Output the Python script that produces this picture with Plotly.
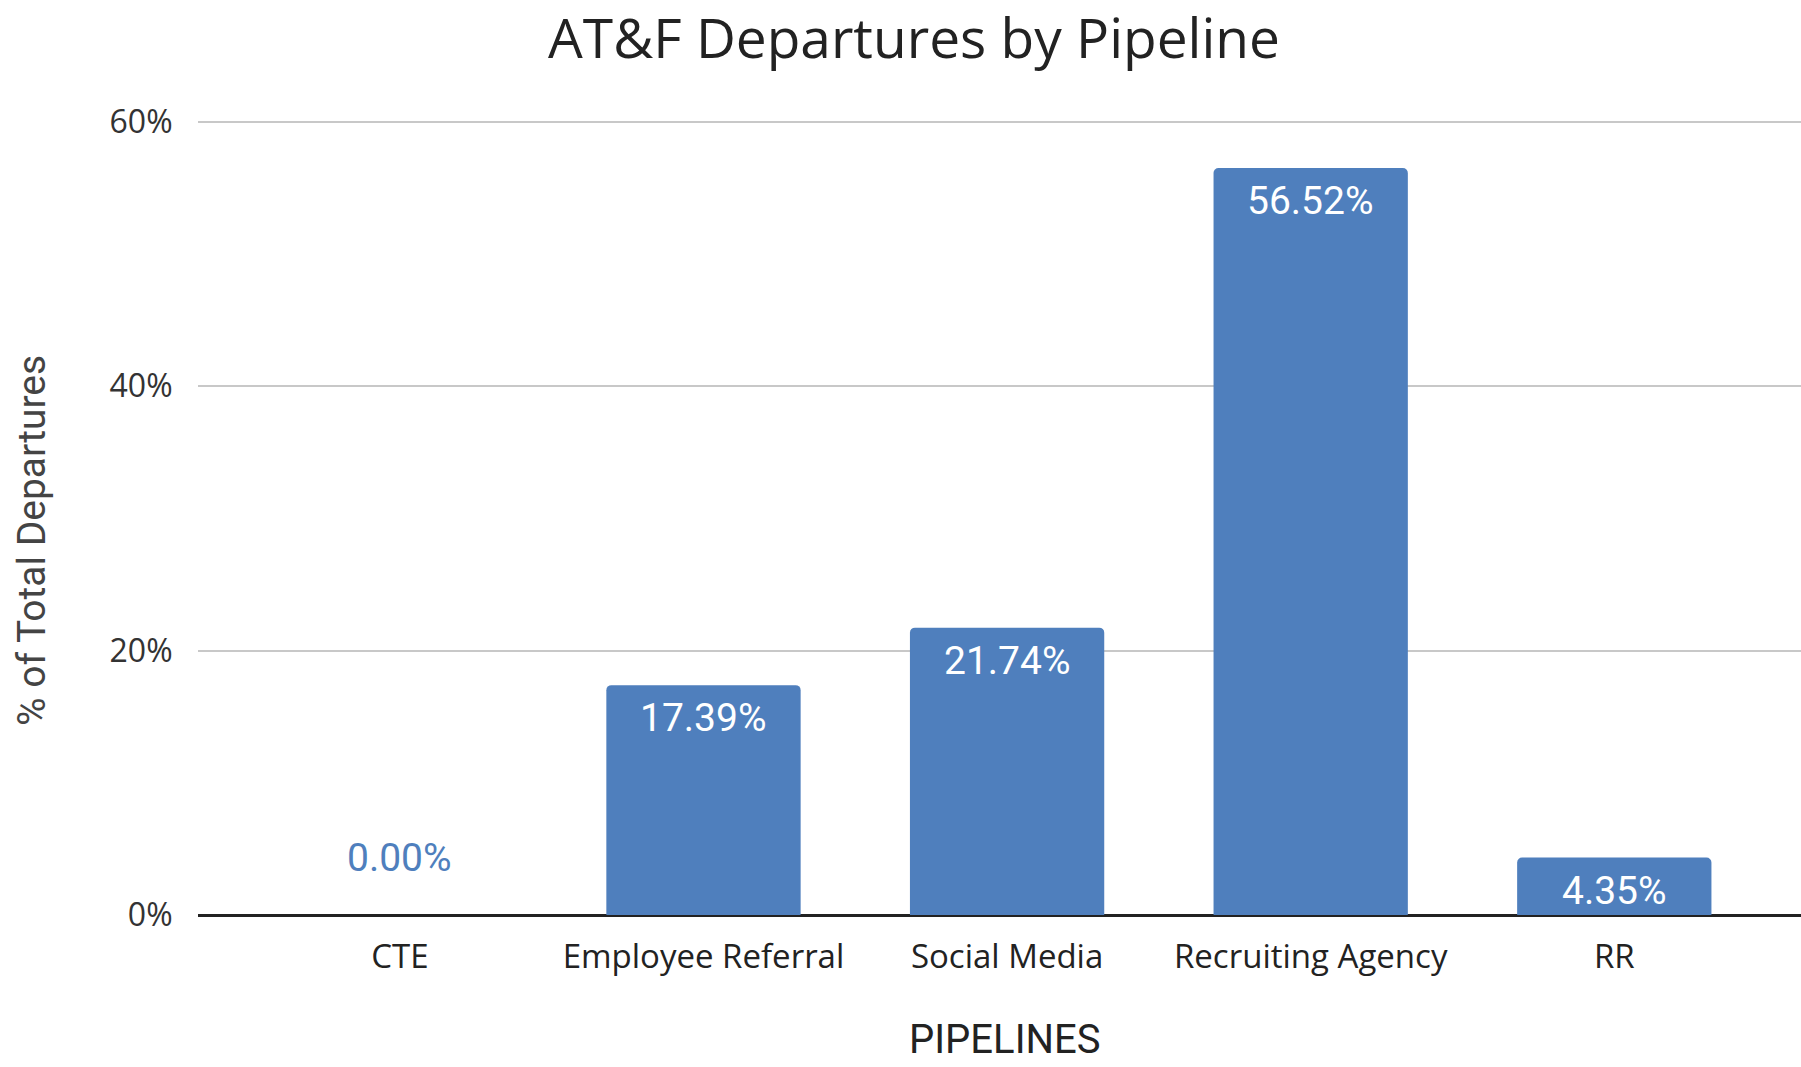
import plotly.graph_objects as go

# Share of total departures per hiring pipeline (percent)
pipelines = ["CTE", "Employee Referral", "Social Media", "Recruiting Agency", "RR"]
departure_pct = [0.00, 17.39, 21.74, 56.52, 4.35]
y_ticks = [0, 20, 40, 60]
y_tick_labels = ["0%", "20%", "40%", "60%"]

BAR_BLUE = "#4f7fbd"

fig = go.Figure(
    go.Bar(
        x=pipelines,
        y=departure_pct,
        marker=dict(color=BAR_BLUE, cornerradius=5, line=dict(width=0)),
        hoverinfo="skip",
    )
)

# Value labels: white inside the top of each bar, blue just above the axis for empty bars
for name, val in zip(pipelines, departure_pct):
    if val > 0:
        fig.add_annotation(
            x=name, y=val, text=f"{val:.2f}%", showarrow=False,
            yanchor="top", yshift=-8,
            font=dict(family="Roboto", size=39, color="white"),
        )
    else:
        fig.add_annotation(
            x=name, y=val, text=f"{val:.2f}%", showarrow=False,
            yanchor="bottom", yshift=32,
            font=dict(family="Roboto", size=39, color=BAR_BLUE),
        )

# Rotated y-axis title
fig.add_annotation(
    xref="paper", yref="paper", x=-0.1036, y=0.468,
    text="% of Total Departures", textangle=-90, showarrow=False,
    xanchor="center", yanchor="middle",
    font=dict(family="Roboto", size=39, color="#444444"),
)

# X-axis title placed under the category labels
fig.add_annotation(
    xref="paper", yref="paper", x=(1005 - 198) / 1603, y=-0.155,
    text="PIPELINES", showarrow=False,
    xanchor="center", yanchor="middle", borderpad=0,
    font=dict(family="Roboto", size=40, color="#222222"),
)

fig.update_layout(
    width=1801,
    height=1067,
    margin=dict(l=198, r=0, t=114, b=152),
    paper_bgcolor="white",
    plot_bgcolor="white",
    bargap=0.36,
    showlegend=False,
    title=dict(
        text="AT&F Departures by Pipeline",
        x=914 / 1801, xanchor="center",
        y=1 - 39 / 1067, yanchor="middle", yref="container",
        font=dict(family="Open Sans", size=55, color="#222222"),
    ),
    xaxis=dict(
        range=[-0.665, 4.615],
        showgrid=False,
        showline=False,
        ticks="outside",
        ticklen=12,
        tickcolor="rgba(0,0,0,0)",
        tickfont=dict(family="Open Sans", size=33, color="#222222"),
    ),
    yaxis=dict(
        range=[0, 60.6],
        tickvals=y_ticks,
        ticktext=y_tick_labels,
        showgrid=True,
        gridcolor="#c8c8c8",
        gridwidth=2,
        zeroline=True,
        zerolinecolor="#222222",
        zerolinewidth=2.5,
        showline=False,
        ticks="outside",
        ticklen=18,
        tickcolor="rgba(0,0,0,0)",
        tickfont=dict(family="Open Sans", size=32, color="#333333"),
    ),
)

fig.write_html("out.html")
